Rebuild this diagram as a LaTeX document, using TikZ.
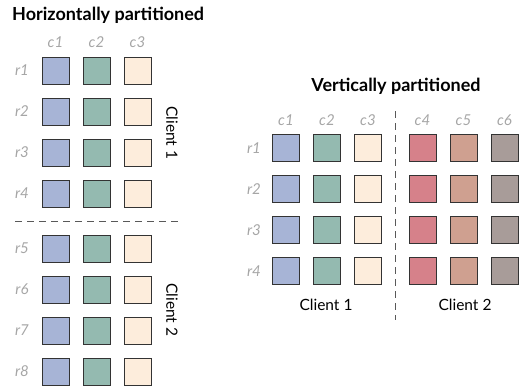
\documentclass[tikz,border=0pt]{standalone}
\usepackage{fontspec}
\setmainfont{Lato}
\begin{document}
\begin{tikzpicture}[x=1pt,y=-1pt,
  cell/.style={draw=black!80,line width=1pt,minimum size=27pt,inner sep=0pt},
  lbl/.style={font=\fontsize{15}{17}\selectfont\itshape,text=black!35,inner sep=0pt},
  ttl/.style={font=\fontsize{18}{20}\selectfont\bfseries,inner sep=0pt},
  cli/.style={font=\fontsize{15.5}{17}\selectfont,inner sep=0pt},
  sep/.style={dashed,dash pattern=on 7pt off 5pt,draw=black!65,line width=1pt}]
\definecolor{cA}{HTML}{A7B4D6}
\definecolor{cB}{HTML}{94BAB0}
\definecolor{cC}{HTML}{FDEDDC}
\definecolor{cD}{HTML}{D6818A}
\definecolor{cE}{HTML}{CFA090}
\definecolor{cF}{HTML}{A89C99}
\useasboundingbox (0,0) rectangle (521,386);
% Horizontal
\node[ttl,anchor=west] (htitle) at (12,15) {Horizontally partitioned};
\foreach \c/\col [count=\i] in {1/cA,2/cB,3/cC}{
  \node[lbl] (hc\c) at ({55.5+41*(\i-1)},42) {c\c};
  \foreach \r in {1,...,4}
    \node[cell,fill=\col] (h\r-\c) at ({55.5+41*(\i-1)},{70.5+41*(\r-1)}) {};
  \foreach \r in {5,...,8}
    \node[cell,fill=\col] (h\r-\c) at ({55.5+41*(\i-1)},{248.5+41*(\r-5)}) {};
}
\foreach \r in {1,...,4}
  \node[lbl] (hr\r) at (22,{70.5+41*(\r-1)}) {r\r};
\foreach \r in {5,...,8}
  \node[lbl] (hr\r) at (22,{248.5+41*(\r-5)}) {r\r};
\coordinate (hd1) at (15,221);
\coordinate (hd2) at (178,221);
\draw[sep] (hd1) -- (hd2);
\node[cli,rotate=-90] (hcl1) at (172,133) {Client 1};
\node[cli,rotate=-90] (hcl2) at (172,310) {Client 2};
% Vertical
\node[ttl] (vtitle) at (396,86) {Vertically partitioned};
\foreach \c/\xx/\col in {1/286/cA,2/327/cB,3/368/cC,4/422.5/cD,5/463.5/cE,6/504.5/cF}{
  \node[lbl] (vc\c) at (\xx,120) {c\c};
  \foreach \r in {1,...,4}
    \node[cell,fill=\col] (v\r-\c) at (\xx,{148+41*(\r-1)}) {};
}
\foreach \r in {1,...,4}
  \node[lbl] (vr\r) at (254,{148+41*(\r-1)}) {r\r};
\coordinate (vd1) at (395,111);
\coordinate (vd2) at (395,320);
\draw[sep] (vd1) -- (vd2);
\node[cli] (vcl1) at (326,305) {Client 1};
\node[cli] (vcl2) at (465,305) {Client 2};
\end{tikzpicture}
\end{document}
